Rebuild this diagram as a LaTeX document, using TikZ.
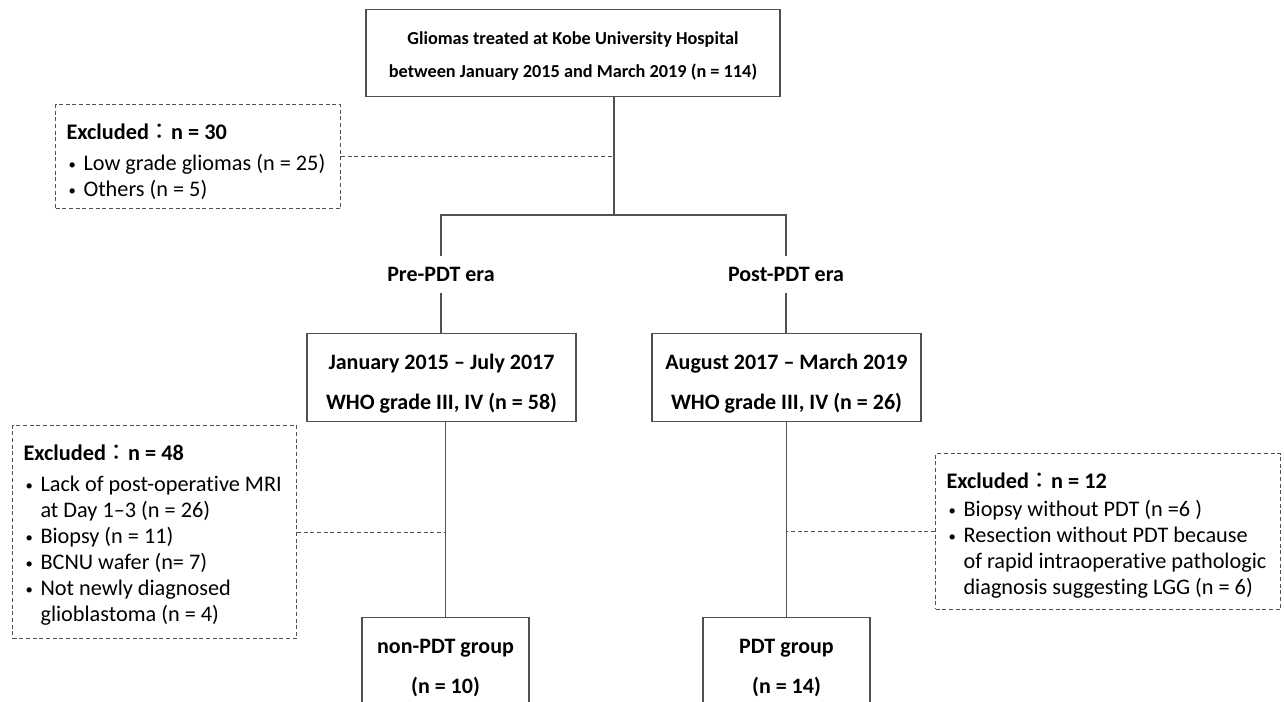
\documentclass[tikz,border=0pt]{standalone}
\usepackage{fontspec}
\setmainfont{Carlito}[Ligatures=NoCommon]
\newfontfamily\cjk{Noto Sans CJK JP}
\definecolor{linegray}{RGB}{80,80,80}

\newcommand{\blt}[1]{\makebox[12.75pt][l]{\hspace{1.5pt}\raisebox{1pt}{\fontsize{11}{11}\selectfont •}}\mbox{#1}}
\newcommand{\cnt}[1]{\hspace*{12.75pt}\mbox{#1}}
\newcommand{\exhead}[1]{\spaceskip=0pt\xspaceskip=0pt\rule{0pt}{26.25pt}\textbf{Excluded}{\cjk ：}\textbf{n = #1}}
\newcommand{\botstrut}[1]{\rule[-#1]{0pt}{#1}}

\begin{document}
\begin{tikzpicture}[x=0.75pt, y=-0.75pt,
    flowbox/.style={draw=linegray, line width=1pt, inner ysep=0pt, inner xsep=4pt, align=center, anchor=north, font=\bfseries\fontsize{16.5}{30}\selectfont},
    exclbox/.style={draw=linegray, line width=0.8pt, dash pattern=on 3pt off 2pt, anchor=north west, inner ysep=0pt, inner xsep=8.25pt, align=left, font=\fontsize{16.7}{19.5}\selectfont},
    era/.style={font=\bfseries\fontsize{16.5}{20}\selectfont, minimum height=27.75pt, inner ysep=0pt},
    link/.style={draw=linegray, line width=0.9pt},
    exclline/.style={draw=linegray, line width=0.8pt, dash pattern=on 3pt off 2pt}]
    \useasboundingbox (0,0) rectangle (1284,702);
    \clip (0,0) rectangle (1284,702);

    \node[flowbox, minimum width=310.5pt, font=\bfseries\fontsize{13.7}{25}\selectfont] (cohort) at (573,9) {\rule{0pt}{26.25pt}Gliomas treated at Kobe University Hospital\\between January 2015 and March 2019 (n = 114)\botstrut{14pt}};

    \node[exclbox, text width=197.25pt] (exclfirst) at (55,104) {\exhead{30}\\[3.75pt]\blt{Low grade gliomas (n = 25)}\\\blt{Others (n = 5)}\botstrut{9pt}};

    \node[era] (pre) at (441,274.5) {Pre-PDT era};
    \node[era] (post) at (786,274.5) {Post-PDT era};

    \node[flowbox, minimum width=201.75pt] (early) at (441.5,333) {\rule{0pt}{27pt}January 2015 – July 2017\\WHO grade III, IV (n = 58)\botstrut{8.7pt}};
    \node[flowbox, minimum width=201.75pt] (late) at (786.5,333) {\rule{0pt}{27pt}August 2017 – March 2019\\WHO grade III, IV (n = 26)\botstrut{8.7pt}};

    \node[exclbox, text width=196.5pt] (exclearly) at (12,425) {\exhead{48}\\[3.75pt]\blt{Lack of post-operative MRI}\\\cnt{at Day 1–3 (n = 26)}\\\blt{Biopsy (n = 11)}\\\blt{BCNU wafer (n= 7)}\\\blt{Not newly diagnosed}\\\cnt{glioblastoma (n = 4)}\botstrut{12.75pt}};
    \node[exclbox, text width=242.25pt] (excllate) at (935,453) {\exhead{12}\\[1.5pt]\blt{Biopsy without PDT (n =6 )}\\\blt{Resection without PDT because}\\\cnt{of rapid intraoperative pathologic}\\\cnt{diagnosis suggesting LGG (n = 6)}\botstrut{11pt}};

    \node[flowbox, minimum width=125.25pt] (nonpdt) at (445.5,617) {\rule{0pt}{27pt}non-PDT group\\(n = 10)\botstrut{20pt}};
    \node[flowbox, minimum width=125.25pt] (pdt) at (786.5,617) {\rule{0pt}{27pt}PDT group\\(n = 14)\botstrut{20pt}};

    \coordinate (split) at (614,215);
    \draw[link] (cohort.south -| split) -- (split);
    \draw[link] (pre.north) -- (pre.north |- split) -- (post.north |- split) -- (post.north);
    \draw[link] (pre.south) -- (pre.south |- early.north);
    \draw[link] (post.south) -- (post.south |- late.north);
    \draw[link] (nonpdt.north |- early.south) -- (nonpdt.north);
    \draw[link] (pdt.north |- late.south) -- (pdt.north);

    \draw[exclline] (exclfirst.east) -- (exclfirst.east -| split);
    \draw[exclline] (exclearly.east) -- (exclearly.east -| nonpdt.north);
    \draw[exclline] (excllate.west) -- (excllate.west -| pdt.north);
\end{tikzpicture}
\end{document}
